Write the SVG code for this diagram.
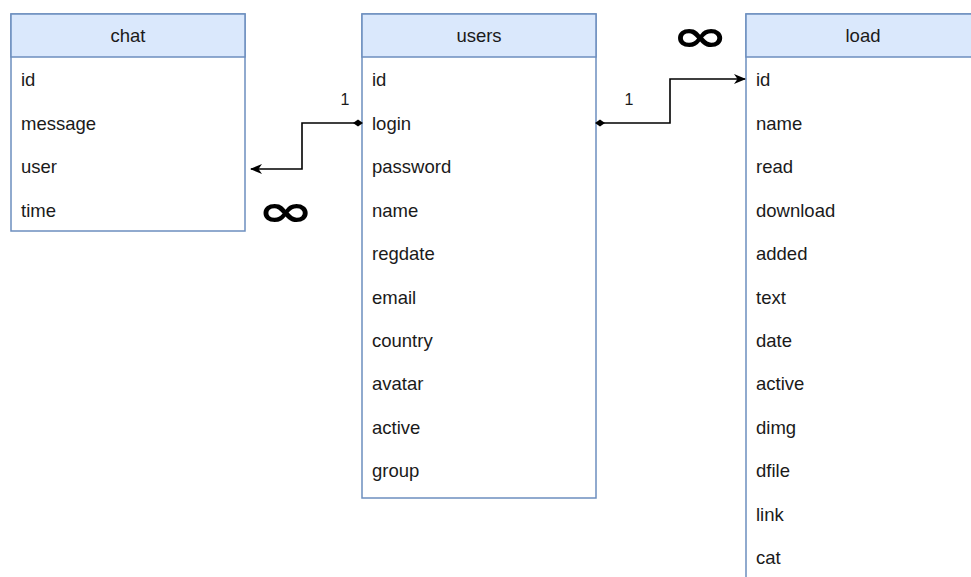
<svg xmlns="http://www.w3.org/2000/svg" width="971" height="577" viewBox="0 0 971 577">
<defs>
<style>
.hd{fill:#dae8fc;stroke:#6c8ebf;stroke-width:1.5}
.bd{fill:#ffffff;stroke:#6c8ebf;stroke-width:1.5}
text{font-family:"Liberation Sans",Arial,sans-serif;font-size:18.5px;fill:#1a1a1a}
.c{text-anchor:middle}
.inf{font-family:"DejaVu Sans",sans-serif;font-size:46px;font-weight:bold;text-anchor:middle;fill:#000}
.lbl{font-size:16px;text-anchor:middle}
.ln{fill:none;stroke:#000;stroke-width:1.6}
</style>
<marker id="arr" viewBox="0 0 12 12" refX="11" refY="6" markerWidth="12" markerHeight="12" markerUnits="userSpaceOnUse" orient="auto">
<path d="M0,1 L12,6 L0,11 L3.5,6 Z" fill="#000"/>
</marker>
<marker id="dot" viewBox="0 0 10 10" refX="5" refY="5" markerWidth="10" markerHeight="10" markerUnits="userSpaceOnUse" orient="auto">
<path d="M0,5 L5,1.5 L10,5 L5,8.5 Z" fill="#000"/>
</marker>
</defs>
<rect width="971" height="577" fill="#ffffff"/>

<g id="chat">
<rect class="bd" x="11" y="14" width="234" height="217"/>
<rect class="hd" x="11" y="14" width="234" height="43"/>
<text class="c" x="128" y="42">chat</text>
<text x="21" y="86">id</text>
<text x="21" y="130">message</text>
<text x="21" y="173">user</text>
<text x="21" y="217">time</text>
</g>

<g id="users">
<rect class="bd" x="362" y="14" width="234" height="484"/>
<rect class="hd" x="362" y="14" width="234" height="43"/>
<text class="c" x="479" y="42">users</text>
<text x="372" y="86">id</text>
<text x="372" y="130">login</text>
<text x="372" y="173">password</text>
<text x="372" y="217">name</text>
<text x="372" y="260">regdate</text>
<text x="372" y="304">email</text>
<text x="372" y="347">country</text>
<text x="372" y="390">avatar</text>
<text x="372" y="434">active</text>
<text x="372" y="477">group</text>
</g>

<g id="load">
<rect class="bd" x="746" y="14" width="234" height="580"/>
<rect class="hd" x="746" y="14" width="234" height="43"/>
<text class="c" x="863" y="42">load</text>
<text x="756" y="86">id</text>
<text x="756" y="130">name</text>
<text x="756" y="173">read</text>
<text x="756" y="217">download</text>
<text x="756" y="260">added</text>
<text x="756" y="304">text</text>
<text x="756" y="347">date</text>
<text x="756" y="390">active</text>
<text x="756" y="434">dimg</text>
<text x="756" y="477">dfile</text>
<text x="756" y="521">link</text>
<text x="756" y="564">cat</text>
</g>

<g id="connectors">
<path class="ln" d="M358,123 L302,123 L302,169 L251,169" marker-start="url(#dot)" marker-end="url(#arr)"/>
<text class="lbl" x="345" y="105">1</text>
<text class="inf" transform="translate(285.5,226) scale(1.48,0.95)">∞</text>
<path class="ln" d="M600,123 L670,123 L670,79 L745,79" marker-start="url(#dot)" marker-end="url(#arr)"/>
<text class="lbl" x="629" y="105">1</text>
<text class="inf" transform="translate(700,50.5) scale(1.48,0.95)">∞</text>
</g>
</svg>
